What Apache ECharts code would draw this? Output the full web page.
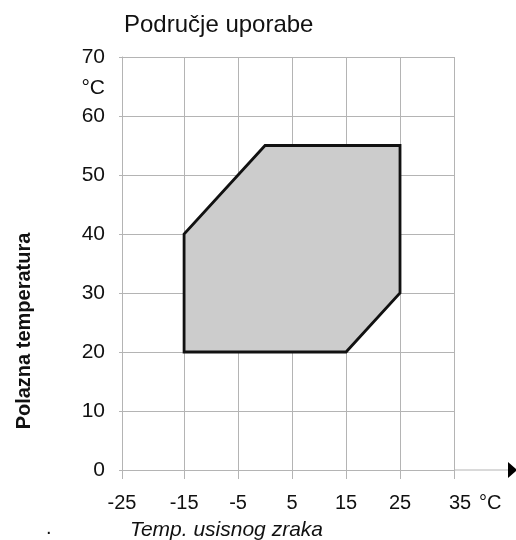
<!DOCTYPE html>
<html>
<head>
<meta charset="utf-8">
<script src="https://cdn.jsdelivr.net/npm/echarts@6/dist/echarts.min.js"></script>
<style>
  html, body { margin: 0; padding: 0; background: #fff; }
  #chart { width: 516px; height: 540px; }
</style>
</head>
<body>
<div id="chart"></div>
<script>
// positions on the x axis where the ticks sit (the first one is drawn a bit left of -25 in the original)
const xTickValues = [-26.5, -15, -5, 5, 15, 25, 35]
const xTickLabels = ['-25', '-15', '-5', '5', '15', '25', '35']
const yTickLabels = ['0', '10', '20', '30', '40', '50', '60', '70']

// polygon of the operating range (air temp, flow temp)
const rangeX = [-15, -15, 0, 25, 25, 15]
const rangeY = [20, 40, 55, 55, 30, 20]

const font = 'Liberation Sans, Arial, sans-serif'
const gridColor = '#b4b4b4'

const chart = echarts.init(document.getElementById('chart'))

const option = {
  animation: false,
  title: {
    text: 'Područje uporabe',
    left: 119,
    top: 8,
    textStyle: { fontFamily: font, fontSize: 24, fontWeight: 'normal', color: '#111' }
  },
  grid: { left: 122, top: 57, width: 332, height: 413 },
  xAxis: {
    type: 'value',
    min: -26.5,
    max: 35,
    axisLine: { show: true, onZero: false, lineStyle: { color: gridColor, width: 1 } },
    axisTick: {
      show: true,
      customValues: xTickValues,
      length: 9,
      lineStyle: { color: gridColor }
    },
    axisLabel: {
      customValues: xTickValues,
      margin: 23,
      fontFamily: font,
      fontSize: 20,
      color: '#111',
      formatter: (v) => {
        const i = xTickValues.indexOf(v)
        // last label sits a little to the right, next to its unit
        return i === xTickValues.length - 1 ? '{last|' + xTickLabels[i] + '}' : xTickLabels[i]
      },
      rich: {
        last: { fontFamily: font, fontSize: 20, color: '#111', padding: [0, 0, 0, 12] }
      }
    },
    splitLine: { show: true, lineStyle: { color: gridColor, width: 1 } }
  },
  yAxis: {
    type: 'value',
    min: 0,
    max: 70,
    interval: 10,
    axisLine: { show: true, onZero: false, lineStyle: { color: gridColor, width: 1 } },
    axisTick: { show: true, length: 3, lineStyle: { color: gridColor } },
    axisLabel: {
      margin: 17,
      fontFamily: font,
      fontSize: 21,
      color: '#111',
      formatter: (v) => yTickLabels[v / 10]
    },
    splitLine: { show: true, lineStyle: { color: gridColor, width: 1 } }
  },
  series: [
    {
      type: 'custom',
      coordinateSystem: 'cartesian2d',
      data: rangeX.map((x, i) => [x, rangeY[i]]),
      renderItem: (params, api) => {
        if (params.dataIndex !== 0) return null
        const pts = rangeX.map((x, i) => api.coord([x, rangeY[i]]))
        return {
          type: 'polygon',
          shape: { points: pts },
          style: { fill: '#cccccc', stroke: '#111', lineWidth: 2.8 }
        }
      }
    }
  ],
  graphic: [
    // x axis continues past 35 and ends in an arrow
    {
      type: 'line',
      shape: { x1: 454, y1: 470, x2: 510, y2: 470 },
      style: { stroke: gridColor, lineWidth: 1 }
    },
    {
      type: 'polygon',
      shape: { points: [[508, 462], [517, 470], [508, 478]] },
      style: { fill: '#000' }
    },
    {
      type: 'text',
      x: 479,
      y: 503,
      style: { text: '°C', font: '20px ' + font, fill: '#111', verticalAlign: 'middle' }
    },
    {
      type: 'text',
      x: 105,
      y: 88,
      style: { text: '°C', font: '21px ' + font, fill: '#111', align: 'right', verticalAlign: 'middle' }
    },
    {
      type: 'text',
      x: 24,
      y: 331,
      rotation: Math.PI / 2,
      style: {
        text: 'Polazna temperatura',
        font: 'bold 20px ' + font,
        fill: '#111',
        align: 'center',
        verticalAlign: 'middle'
      }
    },
    {
      type: 'text',
      x: 130,
      y: 530,
      style: {
        text: 'Temp. usisnog zraka',
        font: 'italic 21px ' + font,
        fill: '#111',
        verticalAlign: 'middle'
      }
    },
    {
      type: 'text',
      x: 46,
      y: 528,
      style: { text: '.', font: '20px ' + font, fill: '#111', verticalAlign: 'middle' }
    }
  ]
}

chart.setOption(option)
</script>
</body>
</html>
